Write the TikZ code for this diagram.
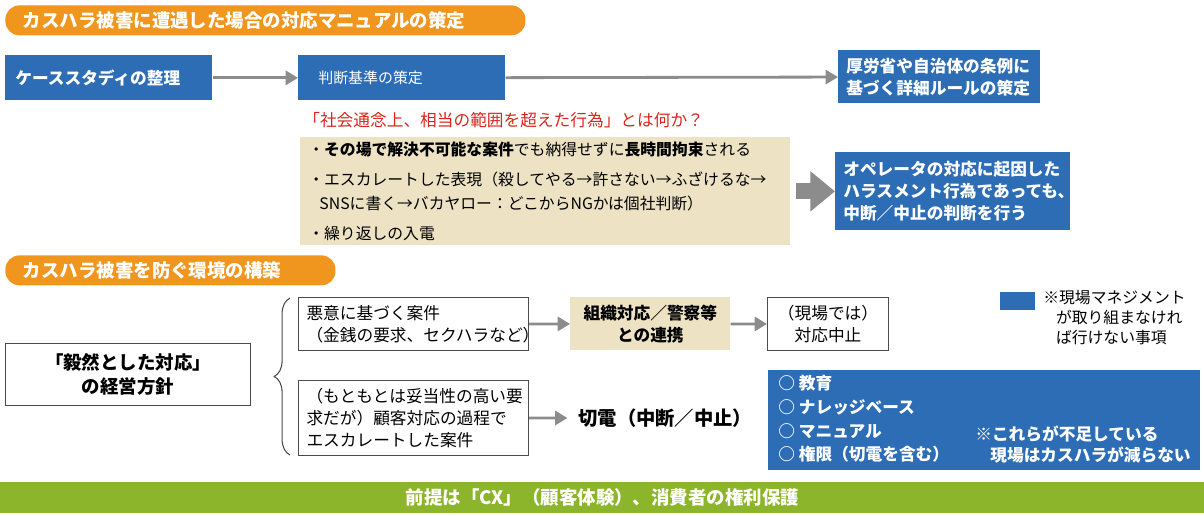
\documentclass[tikz,border=0pt]{standalone}
\usepackage{fontspec}
\setmainfont{Noto Sans CJK JP}
\usetikzlibrary{positioning,decorations.pathreplacing,arrows.meta}
\definecolor{hdorange}{HTML}{F0961E}
\definecolor{mgblue}{HTML}{2D6DB5}
\definecolor{beige}{HTML}{EDE3C4}
\definecolor{cxgreen}{HTML}{8CB52B}
\definecolor{arrgray}{HTML}{8C8C8C}
\definecolor{redtxt}{HTML}{D7261E}
\begin{document}
\begin{tikzpicture}[x=0.02cm,y=-0.02cm]
    \tikzstyle{every node}+=[inner sep=0pt, font=\fontsize{9.5}{12.5}\selectfont]
    \tikzstyle{header}=[fill=hdorange, text=white, rounded corners=8pt, anchor=north west, minimum height=30*0.02cm, font=\fontsize{10.5}{13}\selectfont\bfseries, inner xsep=10pt]
    \tikzstyle{bluebox}=[fill=mgblue, text=white, anchor=north west, font=\fontsize{9.5}{12.5}\selectfont\bfseries, align=left]
    \tikzstyle{whitebox}=[draw=black!70, line width=0.6pt, anchor=north west, align=left]
    \tikzstyle{flow}=[draw=arrgray, line width=1.6pt, -{Triangle[length=7pt,width=8pt]}]
    \useasboundingbox (0,0) rectangle (1204,515);
    % first half
    \node[header, minimum width=505*0.02cm, text width=485*0.02cm] (hdA) at (5,5) {カスハラ被害に遭遇した場合の対応マニュアルの策定};
    \node[bluebox, minimum width=207*0.02cm, minimum height=45*0.02cm, text width=187*0.02cm] (cases) at (5,55) {ケーススタディの整理};
    \node[bluebox, minimum width=207*0.02cm, minimum height=45*0.02cm, text width=167*0.02cm, font=\fontsize{8.5}{11}\selectfont] (criteria) at (298,55) {判断基準の策定};
    \node[bluebox, minimum width=202*0.02cm, minimum height=53*0.02cm, text width=186*0.02cm] (rules) at (838,50) {厚労省や自治体の条例に\\基づく詳細ルールの策定};
    \draw[flow] (cases) -- (criteria);
    \draw[flow] (criteria) -- (rules);
    \node[anchor=west, text=redtxt] (question) at (303,120) {「社会通念上、相当の範囲を超えた行為」とは何か？};
    \node[fill=beige, anchor=north west, minimum width=490*0.02cm, minimum height=108*0.02cm, text width=474*0.02cm, align=left, font=\fontsize{9}{14}\selectfont] (acts) at (300,137)
        {・\textbf{その場で解決不可能な案件}でも納得せずに\textbf{長時間拘束}される\\[3pt]
         ・エスカレートした表現（殺してやる→許さない→ふざけるな→\\
         \hspace*{0.7em}SNSに書く→バカヤロー：どこからNGかは個社判断）\\[3pt]
         ・繰り返しの入電};
    \node[bluebox, minimum width=235*0.02cm, minimum height=78*0.02cm, text width=219*0.02cm] (stop) at (835,152) {オペレータの対応に起因した\\ハラスメント行為であっても、\\中断／中止の判断を行う};
    \draw[arrgray, line width=9pt, -{Triangle[length=14pt,width=22pt]}] (acts.east) ++(5,0) -- (stop.west);
    % second half
    \node[header, minimum width=315*0.02cm, text width=295*0.02cm] (hdB) at (5,255) {カスハラ被害を防ぐ環境の構築};
    \node[whitebox, minimum width=245*0.02cm, minimum height=62*0.02cm, text width=245*0.02cm, align=center, font=\fontsize{10.5}{14}\selectfont\bfseries] (policy) at (5,343) {「毅然とした対応」\\の経営方針};
    \draw[black!70, line width=0.6pt, decorate, decoration={brace, amplitude=9pt, mirror}] (290,298) -- (290,455);
    \node[whitebox, minimum width=230*0.02cm, minimum height=53*0.02cm, text width=214*0.02cm] (malice) at (298,297) {悪意に基づく案件\\（金銭の要求、セクハラなど）};
    \node[fill=beige, anchor=north west, minimum width=160*0.02cm, minimum height=53*0.02cm, align=center, font=\fontsize{9.5}{12.5}\selectfont\bfseries] (police) at (570,297) {組織対応／警察等\\との連携};
    \node[whitebox, minimum width=121*0.02cm, minimum height=53*0.02cm, align=center] (halt) at (767,297) {（現場では）\\対応中止};
    \node[whitebox, minimum width=230*0.02cm, minimum height=75*0.02cm, text width=214*0.02cm] (escal) at (298,380) {（もともとは妥当性の高い要\\求だが）顧客対応の過程で\\エスカレートした案件};
    \node[anchor=west, font=\fontsize{11}{14}\selectfont\bfseries] (hangup) at (578,418) {切電（中断／中止）};
    \draw[flow] (malice) -- (police);
    \draw[flow] (police) -- (halt);
    \draw[flow] (escal.east) -- ([xshift=-6pt]hangup.west);
    % legend
    \node[fill=mgblue, anchor=north west, minimum width=35*0.02cm, minimum height=18*0.02cm] (key) at (1000,292) {};
    \node[anchor=north west, align=left, font=\fontsize{9}{11.5}\selectfont] (keytext) at (1043,290) {※現場マネジメント\\\hspace*{0.8em}が取り組まなけれ\\\hspace*{0.8em}ば行けない事項};
    \node[fill=mgblue, anchor=north west, minimum width=432*0.02cm, minimum height=100*0.02cm] (measures) at (768,370) {};
    \node[anchor=north west, text=white, align=left, font=\fontsize{9.5}{13.5}\selectfont\bfseries] (items) at (778,375) {○ 教育\\○ ナレッジベース\\○ マニュアル\\○ 権限（切電を含む）};
    \node[anchor=north west, text=white, align=left, font=\fontsize{9.5}{12.5}\selectfont\bfseries] (lack) at (975,425) {※これらが不足している\\\hspace*{0.9em}現場はカスハラが減らない};
    % premise
    \node[fill=cxgreen, text=white, anchor=north west, minimum width=1204*0.02cm, minimum height=31*0.02cm, font=\fontsize{10.5}{13}\selectfont\bfseries] (premise) at (0,482) {前提は「CX」（顧客体験）、消費者の権利保護};
\end{tikzpicture}
\end{document}
